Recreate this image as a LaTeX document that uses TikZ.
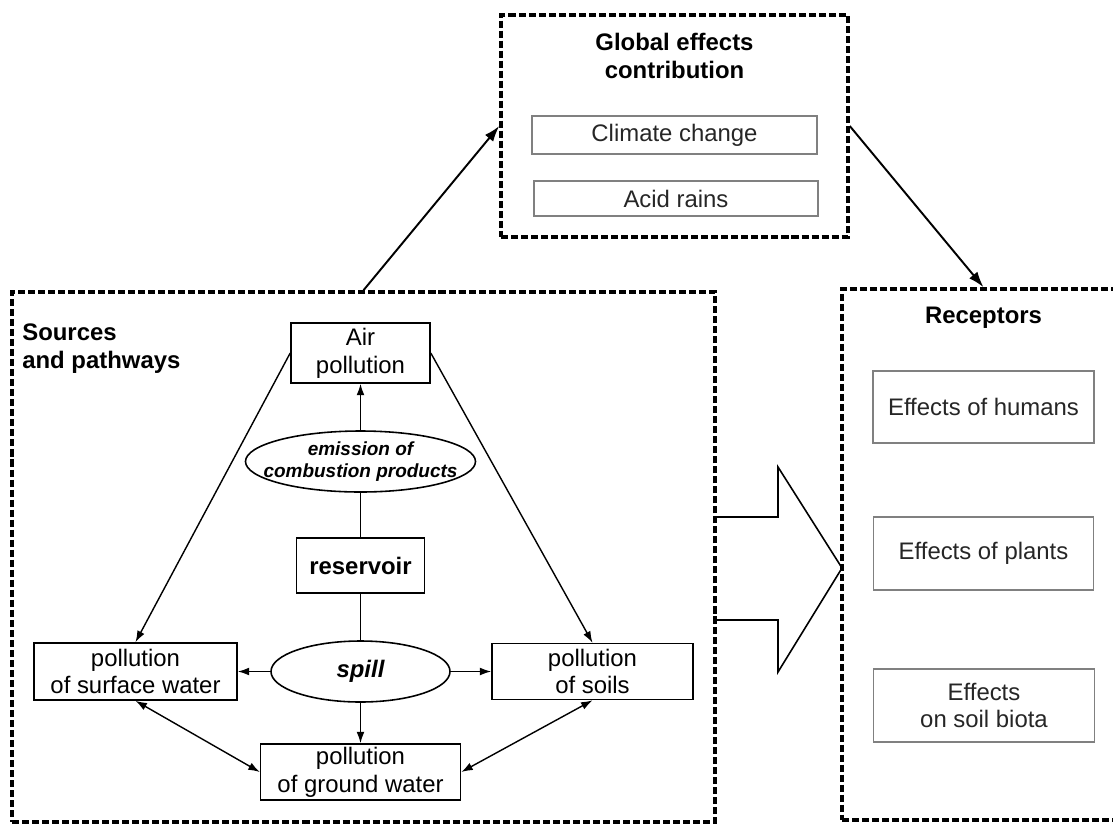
\documentclass[tikz,border=0pt]{standalone}
\usepackage{fontspec}
\setmainfont{Liberation Sans}
\usepackage{tikz}
\usetikzlibrary{arrows.meta,shapes.geometric}

\tikzset{
  group/.style={draw, line width=2pt, dash pattern=on 4pt off 1.7pt},
  heading/.style={font=\fontsize{13.6}{15.8}\selectfont\bfseries, inner sep=0pt},
  stage/.style={draw, line width=0.9pt, align=center, inner sep=0pt},
  effect/.style={draw=black!50, line width=0.6pt, align=center, inner sep=0pt, text=black!85},
  pathway/.style={draw, ellipse, line width=0.9pt, align=center, inner sep=0pt},
  flow/.style={-{Latex[length=6.5pt,width=4.5pt]}, line width=0.8pt},
  flowboth/.style={{Latex[length=6.5pt,width=4.5pt]}-{Latex[length=6.5pt,width=4.5pt]}, line width=0.8pt},
  bigflow/.style={-{Latex[length=9pt,width=6pt]}, line width=1.1pt}
}

\begin{document}
\begin{tikzpicture}[x=0.2mm, y=-0.2mm, font=\fontsize{13.6}{15.8}\selectfont]
    \useasboundingbox (0,0) rectangle (1113,825);

    % the three groups
    \node[group, minimum width=14.06cm, minimum height=10.6cm] (sources) at (363.5,557) {};
    \node[group, minimum width=5.66cm, minimum height=10.62cm] (receptors) at (983.5,554.5) {};
    \node[group, minimum width=6.94cm, minimum height=4.44cm] (global) at (674.5,126) {};

    \node[heading, align=center] (globaltitle) at (674.5,56) {Global effects\\contribution};
    \node[heading, align=left, anchor=west] (sourcestitle) at (22,349) {Sources\\and pathways};
    \node[heading] (receptorstitle) at (983.5,318) {Receptors};

    % global effects
    \node[effect, minimum width=5.7cm, minimum height=0.76cm] (climate) at (674.5,135) {Climate change};
    \node[effect, minimum width=5.68cm, minimum height=0.7cm] (acid) at (676,198.5) {Acid rains};

    % receptors
    \node[effect, minimum width=4.42cm, minimum height=1.44cm] (humans) at (983.5,407) {Effects of humans};
    \node[effect, minimum width=4.4cm, minimum height=1.46cm] (plants) at (983.5,553.5) {Effects of plants};
    \node[effect, minimum width=4.42cm, minimum height=1.46cm] (biota) at (984,705.5) {Effects\\on soil biota};

    % sources and pathways
    \node[stage, minimum width=2.78cm, minimum height=1.2cm] (airp) at (360.5,353) {Air\\pollution};
    \node[pathway, minimum width=4.6cm, minimum height=1.22cm, inner xsep=-20pt, inner ysep=-4pt,
          font=\fontsize{10.8}{12.5}\selectfont\bfseries\itshape] (emission) at (360.5,461.5) {emission of\\combustion products};
    \node[stage, minimum width=2.56cm, minimum height=1.1cm, font=\fontsize{13.6}{15.8}\selectfont\bfseries] (reservoir) at (360.5,565.5) {reservoir};
    \node[pathway, minimum width=3.58cm, minimum height=1.22cm, font=\fontsize{13.6}{15.8}\selectfont\bfseries\itshape] (spill) at (360.5,671.5) {spill};
    \node[stage, minimum width=4.06cm, minimum height=1.14cm] (surface) at (135.5,671.5) {pollution\\of surface water};
    \node[stage, minimum width=4.02cm, minimum height=1.12cm] (soils) at (592.5,671.5) {pollution\\of soils};
    \node[stage, minimum width=4.0cm, minimum height=1.12cm] (ground) at (360.5,772) {pollution\\of ground water};

    \draw[line width=0.8pt] (reservoir) -- (emission);
    \draw[line width=0.8pt] (reservoir) -- (spill);
    \draw[flow] (emission) -- (airp);
    \draw[flow] (airp.west) -- (surface.north);
    \draw[flow] (airp.east) -- (soils.north);
    \draw[flow] (spill.west) -- (surface.east);
    \draw[flow] (spill.east) -- (soils.west);
    \draw[flow] (spill) -- (ground);
    \draw[flowboth] (surface.south) -- (ground.west);
    \draw[flowboth] (soils.south) -- (ground.east);

    \draw[bigflow] (sources.north) -- (global.west);
    \draw[bigflow] (global.east) -- (receptors.north);

    % block arrow to receptors
    \draw[line width=0.9pt] (715,517) -- (778,517) -- (778,467) -- (842,568) -- (778,672) -- (778,620) -- (715,620);
\end{tikzpicture}
\end{document}
